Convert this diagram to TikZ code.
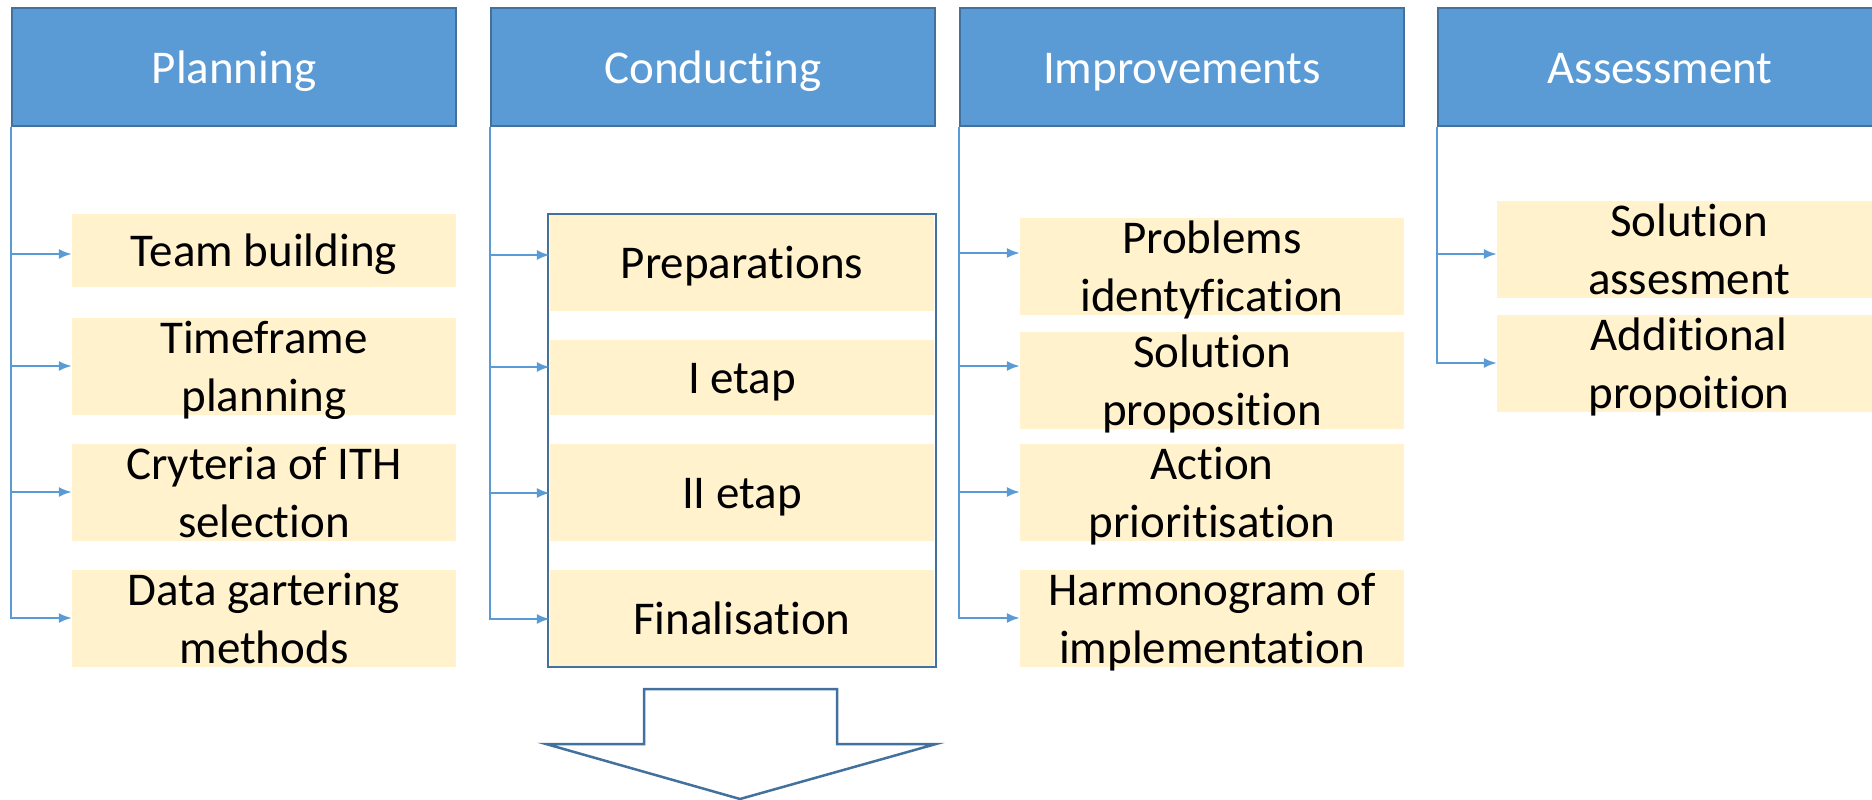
\documentclass[tikz,border=0pt]{standalone}
\usepackage{fontspec}
\setmainfont{Carlito}[Ligatures=NoCommon]
\usetikzlibrary{arrows.meta}
\definecolor{hdrblue}{HTML}{5B9BD5}
\definecolor{hdrline}{HTML}{41719C}
\definecolor{cellfill}{HTML}{FFF2CC}
\newcommand\lnstrut{\rule[-12.6pt]{0pt}{57.4pt}}
\newcommand\mkcell[5]{%
  \node[cell, minimum height=#4pt] (#1) at (#2,#3) {};
  \node[txt] (#1t) at (#1.center) {#5};}
\tikzset{
  hdr/.style={draw=hdrline, line width=2pt, fill=hdrblue, minimum width=444pt,
    minimum height=118pt, inner sep=0pt, text=white,
    font=\fontsize{47}{57.4}\selectfont},
  cell/.style={fill=cellfill, draw=none, minimum width=384pt, inner sep=0pt},
  txt/.style={inner sep=0pt, align=center, text=black,
    font=\fontsize{47}{57.4}\selectfont},
  conn/.style={draw=hdrblue, line width=2pt, -{Latex[length=13pt,width=10pt]}},
  frame/.style={draw=hdrline, line width=2.5pt},
}
\begin{document}
\begin{tikzpicture}[x=1pt, y=-1pt]
\useasboundingbox (0,0) rectangle (1872,800);
\clip (0,0) rectangle (1872,800);
% headers
\node[hdr] (h1) at (234,67) {\lnstrut Planning};
\node[hdr] (h2) at (713,67) {\lnstrut Conducting};
\node[hdr] (h3) at (1182,67) {\lnstrut Improvements};
\node[hdr] (h4) at (1660,67) {\lnstrut Assessment};
% planning
\mkcell{p1}{264}{250.5}{73}{\lnstrut Team building}
\mkcell{p2}{264}{366.5}{97}{\lnstrut Timeframe\\\lnstrut planning}
\mkcell{p3}{264}{492.5}{97}{\lnstrut Cryteria of ITH\\\lnstrut selection}
\mkcell{p4}{264}{618.5}{97}{\lnstrut Data gartering\\\lnstrut methods}
% conducting
\mkcell{c1}{742}{262.5}{97}{\lnstrut Preparations}
\mkcell{c2}{742}{377.5}{75}{\lnstrut I etap}
\mkcell{c3}{742}{492.5}{97}{\lnstrut II etap}
\mkcell{c4}{742}{618.5}{97}{\lnstrut Finalisation}
\node[frame, minimum width=388pt, minimum height=453pt, inner sep=0pt] (cbox) at (742,440.5) {};
% improvements
\mkcell{i1}{1212}{266.5}{97}{\lnstrut Problems\\\lnstrut identyfication}
\mkcell{i2}{1212}{380.5}{97}{\lnstrut Solution\\\lnstrut proposition}
\mkcell{i3}{1212}{492.5}{97}{\lnstrut Action\\\lnstrut prioritisation}
\mkcell{i4}{1212}{618.5}{97}{\lnstrut Harmonogram of\\\lnstrut implementation}
% assessment
\mkcell{a1}{1689}{249.5}{97}{\lnstrut Solution\\\lnstrut assesment}
\mkcell{a2}{1689}{363.5}{97}{\lnstrut Additional\\\lnstrut propoition}
% connectors
\draw[conn] (h1.south west) |- (p1.west |- 0,254);
\draw[conn] (h1.south west) |- (p2.west |- 0,366);
\draw[conn] (h1.south west) |- (p3.west |- 0,492);
\draw[conn] (h1.south west) |- (p4.west |- 0,618);
\draw[conn] (h2.south west) |- (c1.west |- 0,255);
\draw[conn] (h2.south west) |- (c2.west |- 0,367);
\draw[conn] (h2.south west) |- (c3.west |- 0,493);
\draw[conn] (h2.south west) |- (c4.west |- 0,619);
\draw[conn] (h3.south west) |- (i1.west |- 0,253);
\draw[conn] (h3.south west) |- (i2.west |- 0,366);
\draw[conn] (h3.south west) |- (i3.west |- 0,492);
\draw[conn] (h3.south west) |- (i4.west |- 0,618);
\draw[conn] (h4.south west) |- (a1.west |- 0,254);
\draw[conn] (h4.south west) |- (a2.west |- 0,363);
% big down arrow
\draw[frame, fill=white, line join=miter] (644,689) -- (837,689) -- (837,744) -- (936,744)
  -- (740,799) -- (546,744) -- (644,744) -- cycle;
\end{tikzpicture}
\end{document}
